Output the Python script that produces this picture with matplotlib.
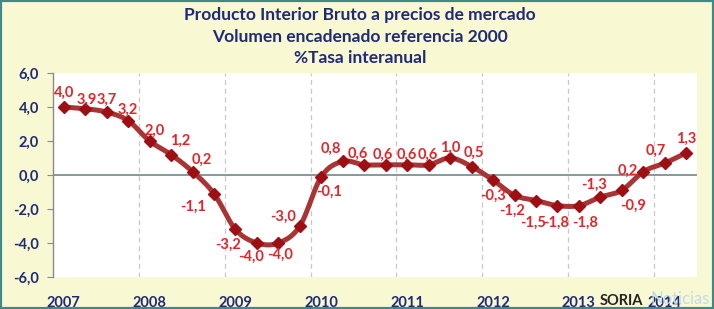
import numpy as np
import matplotlib
matplotlib.use("Agg")
import matplotlib.pyplot as plt
from matplotlib.patches import Rectangle

# ---- data ----
values = [4.0, 3.9, 3.7, 3.2,
          2.0, 1.2, 0.2, -1.1,
          -3.2, -4.0, -4.0, -3.0,
          -0.1, 0.8, 0.6, 0.6,
          0.6, 0.6, 1.0, 0.5,
          -0.3, -1.2, -1.5, -1.8,
          -1.8, -1.3, -0.9, 0.2,
          0.7, 1.3]
years = ["2007", "2008", "2009", "2010", "2011", "2012", "2013", "2014"]
y_ticks = [6.0, 4.0, 2.0, 0.0, -2.0, -4.0, -6.0]
title_lines = ["Producto Interior Bruto a precios de mercado",
               "Volumen encadenado referencia 2000",
               "%Tasa interanual"]

# label offsets in pixels (dx, dy)
label_offsets = [(0, 14), (2, 9), (0, 12), (0, 11),
                 (5, 10), (9, 14), (9, 12), (-21, -13),
                 (-7, -15), (-6, -14), (2, -12), (-17, 9),
                 (8, -15), (-12, 13), (-6, 11), (-3, 10),
                 (0, 10), (-1, 10), (0, 10), (2, 14),
                 (0, -16), (-3, -15), (-3, -22), (-1, -17),
                 (6, -17), (-6, 12), (11, -15), (-16, 1),
                 (-9, 12), (0, 14)]

FONT = ["Lato", "DejaVu Sans"]
NAVY = "#1f2a78"
BG = "#f8f8d2"
LINE = "#a83434"
MARK = "#9e0f14"
LBL = "#e0262b"

W, H = 714, 309
fig = plt.figure(figsize=(W / 100, H / 100), dpi=100, facecolor=BG)

x0, x1 = 53, 697
ytop, ybot = 73, 277
ax = fig.add_axes([x0 / W, 1 - ybot / H, (x1 - x0) / W, (ybot - ytop) / H])
ax.set_facecolor("white")

x = np.arange(len(values))
v = np.array(values)

# smooth drawing (Catmull-Rom through the data points)
def catmull(xp, yp, n=20):
    P = np.column_stack([xp, yp]).astype(float)
    P = np.vstack([P[0] - (P[1] - P[0]), P, P[-1] + (P[-1] - P[-2])])
    out = []
    t = np.linspace(0, 1, n, endpoint=False)[:, None]
    for i in range(1, len(P) - 2):
        p0, p1, p2, p3 = P[i - 1], P[i], P[i + 1], P[i + 2]
        seg = 0.5 * ((2 * p1) + (-p0 + p2) * t + (2 * p0 - 5 * p1 + 4 * p2 - p3) * t ** 2
                     + (-p0 + 3 * p1 - 3 * p2 + p3) * t ** 3)
        out.append(seg)
    out.append(P[-2][None, :])
    out = np.vstack(out)
    return out[:, 0], out[:, 1]

sx, sy = catmull(x, v)
ax.plot(sx, sy, color=LINE, lw=3.6, solid_capstyle="round", zorder=3)
ax.plot(x, v, linestyle="none", marker="D", ms=6, color=MARK, zorder=4)

ax.set_xlim(-0.5, len(values) - 0.5)
ax.set_ylim(-6, 6)

# vertical dashed gridlines at year boundaries
for b in np.arange(3.5, len(values) - 0.5, 4):
    ax.axvline(b, color="#c8c8c8", lw=0.9, ls=(0, (4, 3)), zorder=1)
ax.axhline(0, color="#6e8a8c", lw=1.2, zorder=2)

for s in ["top", "right", "bottom"]:
    ax.spines[s].set_visible(False)
ax.spines["left"].set_color("#8a8a8a")
ax.spines["left"].set_linewidth(1.0)

ax.set_yticks(y_ticks)
ax.set_yticklabels([f"{t:.1f}".replace(".", ",") for t in y_ticks],
                   fontsize=10.5, fontweight="bold", color=NAVY, family=FONT)
ax.tick_params(axis="y", length=4, color="#8a8a8a", pad=6)

ax.set_xticks(np.arange(0, len(values), 4))
ax.set_xticklabels(years, fontsize=10.5, fontweight="bold", color=NAVY, family=FONT)
ax.tick_params(axis="x", length=0, pad=14)

for i, (xi, yi) in enumerate(zip(x, v)):
    dx, dy = label_offsets[i]
    ax.annotate(f"{yi:.1f}".replace(".", ","), (xi, yi), xytext=(dx, dy),
                textcoords="offset pixels", ha="center", va="center",
                fontsize=10.5, fontweight="bold", color=LBL, family=FONT, zorder=5)

# title
for k, line in enumerate(title_lines):
    fig.text(360 / W, 1 - (15 + 21.5 * k) / H, line, ha="center", va="center",
             fontsize=12.5, fontweight="bold", color=NAVY, family=FONT)

# watermark
fig.text(600 / W, 1 - 301 / H, "SORIA", ha="left", va="center", fontsize=10.5,
         fontweight="bold", color="#222222", family=FONT)
fig.text(651 / W, 1 - 299 / H, "Noticias", ha="left", va="center", fontsize=12,
         color="#c3dbe9", family=FONT, zorder=0)

# border
fig.patches.append(Rectangle((0, 0), 1, 1, transform=fig.transFigure, fill=False,
                             edgecolor="#3d8a8a", lw=3))

fig.savefig("out.png", dpi=100, facecolor=BG)
